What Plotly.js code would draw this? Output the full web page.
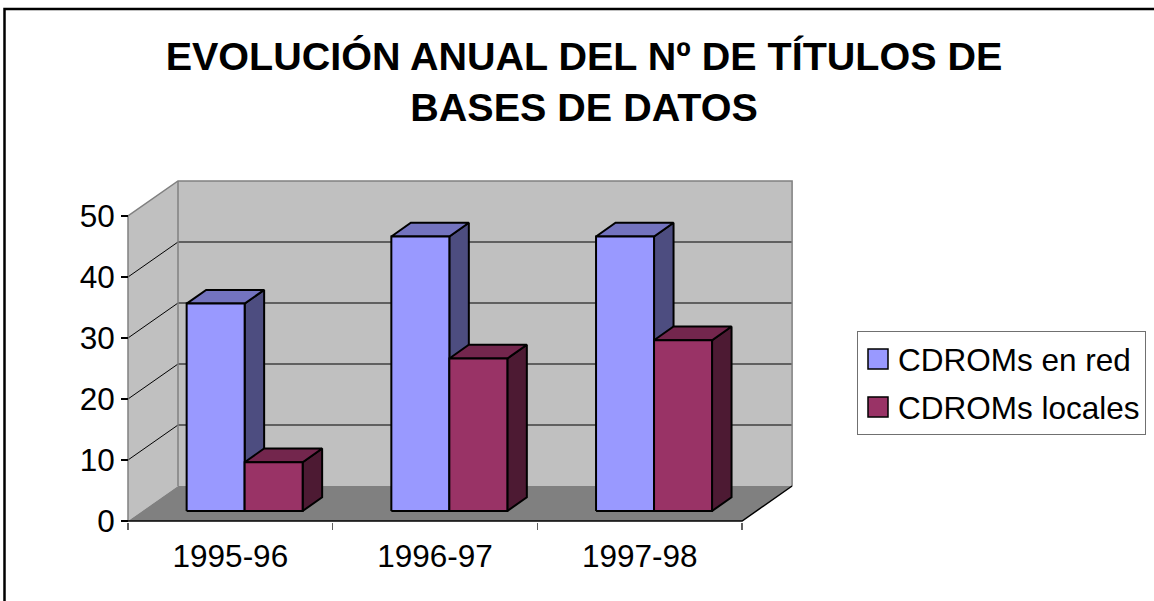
<!DOCTYPE html>
<html><head><meta charset="utf-8">
<script src="https://cdn.plot.ly/plotly-3.0.1.min.js"></script>
<style>html,body{margin:0;padding:0;background:#fff}#chart{width:1154px;height:601px}</style>
</head><body><div id="chart"></div>
<script>
// ---- data ----
const categories = ['1995-96', '1996-97', '1997-98'];
const seriesNames = ['CDROMs en red', 'CDROMs locales'];
const enRed = [34, 45, 45];
const locales = [8, 25, 28];
const yTicks = [0, 10, 20, 30, 40, 50];
const titleText = 'EVOLUCIÓN ANUAL DEL Nº DE TÍTULOS DE<br>BASES DE DATOS';

// ---- geometry (pseudo 3D) ----
const PXX = 204.7, PXY = 6.1;
const L = 122, R = 355, T = 170, B = 79;
const W = 1154 - L - R, H = 601 - T - B;
const x0 = -0.5 - (128 - L) / PXX, x1 = x0 + W / PXX;
const y0 = -1 / PXY, y1 = y0 + H / PXY;
const DX = 50 / PXX, DY = 35 / PXY;          // full depth of the floor
const fdx = DX * 10 / 35, fdy = DY * 10 / 35; // bar front plane
const bdx = 19.5 / PXX, bdy = 13.7 / PXY;     // bar depth
const barW = 58 / PXX;
const xL = -0.5, xR = categories.length - 0.5;
const yMax = yTicks[yTicks.length - 1];

function faces(vals, so) {
  const f = {x: [], y: []}, t = {x: [], y: []}, s = {x: [], y: []};
  vals.forEach((v, i) => {
    const xl = i + so + fdx, xr = xl + barW, yb = fdy, yt = fdy + v;
    f.x.push(xl, xr, xr, xl, xl, null); f.y.push(yb, yb, yt, yt, yb, null);
    t.x.push(xl, xr, xr + bdx, xl + bdx, xl, null); t.y.push(yt, yt, yt + bdy, yt + bdy, yt, null);
    s.x.push(xr, xr + bdx, xr + bdx, xr, xr, null); s.y.push(yb, yb + bdy, yt + bdy, yt, yb, null);
  });
  return {f, t, s};
}
function poly(p, color, name) {
  return {type: 'scatter', mode: 'lines', x: p.x, y: p.y, fill: 'toself', fillcolor: color,
    line: {color: '#000', width: 2}, hoverinfo: 'skip', showlegend: false, name: name};
}
const series = [
  {vals: enRed, so: -barW, c: ['#9999FF', '#7373BF', '#4D4D80']},
  {vals: locales, so: 0, c: ['#993366', '#73264D', '#4D1A33']}
];
const traces = [];
series.forEach((sr, k) => {
  const fc = faces(sr.vals, sr.so);
  traces.push(poly(fc.s, sr.c[2], seriesNames[k]));
  traces.push(poly(fc.t, sr.c[1], seriesNames[k]));
  traces.push(poly(fc.f, sr.c[0], seriesNames[k]));
});
series.forEach((sr, k) => {
  traces.push({type: 'scatter', mode: 'markers', x: [null], y: [null], xaxis: 'x2', name: seriesNames[k],
    legendgroup: 'g' + k, marker: {symbol: 'square', size: 16, color: sr.c[0], line: {color: '#000', width: 1.5}},
    hoverinfo: 'skip'});
});

// ---- walls, floor, grid ----
const P = (pts) => 'M' + pts.map(p => p[0] + ',' + p[1]).join('L');
const shapes = [];
const sh = (path, fill, lc, lw) => shapes.push({type: 'path', xref: 'x', yref: 'y', layer: 'below', path: path,
  fillcolor: fill || 'rgba(0,0,0,0)', line: {color: lc || 'rgba(0,0,0,0)', width: lw || 0}});
sh(P([[xL, 0], [xL, yMax], [xL + DX, yMax + DY], [xL + DX, DY]]) + 'Z', '#C0C0C0');
sh(P([[xL + DX, DY], [xR + DX, DY], [xR + DX, yMax + DY], [xL + DX, yMax + DY]]) + 'Z', '#C0C0C0');
sh(P([[xL, 0], [xR, 0], [xR + DX, DY], [xL + DX, DY]]) + 'Z', '#808080');
yTicks.slice(1, -1).forEach(v => sh(P([[xL, v], [xL + DX, v + DY], [xR + DX, v + DY]]), null, '#000', 1));
sh(P([[xL, 0], [xL, yMax], [xL + DX, yMax + DY], [xR + DX, yMax + DY], [xR + DX, DY]]), null, '#808080', 1.5);
sh(P([[xL + DX, DY], [xL + DX, yMax + DY]]), null, '#808080', 1.5);
sh(P([[xL, 0], [xR, 0], [xR + DX, DY]]), null, '#000', 1.5);
// outer frame
const px2x = px => (px - L) / W, py2y = py => (601 - B - py) / H;
shapes.push({type: 'rect', xref: 'paper', yref: 'paper', x0: px2x(4.5), x1: px2x(1170), y0: py2y(9), y1: py2y(620),
  line: {color: '#000', width: 2.5}, fillcolor: 'rgba(0,0,0,0)', layer: 'above'});

const bounds = categories.map((c, i) => i - 0.5).concat([categories.length - 0.5]);
const FS = 31.5;
const layout = {
  width: 1154, height: 601, margin: {l: L, r: R, t: T, b: B, autoexpand: false},
  paper_bgcolor: '#fff', plot_bgcolor: 'rgba(0,0,0,0)',
  font: {family: '"Liberation Sans", Arial, sans-serif', size: FS, color: '#000'},
  title: {text: titleText, font: {size: 39.5, weight: 700, color: '#000'},
    x: 584 / 1154, xanchor: 'center', xref: 'container', y: 1 - 70 / 601, yanchor: 'top', yref: 'container'},
  xaxis: {range: [x0, x1], tickmode: 'array', tickvals: bounds, showticklabels: false, ticks: 'outside', ticklen: 7,
    tickcolor: '#606060', tickwidth: 1.5, showgrid: false, zeroline: false, showline: false, fixedrange: true},
  xaxis2: {overlaying: 'x', matches: 'x', anchor: 'y', side: 'bottom', range: [x0, x1], tickmode: 'array',
    tickvals: categories.map((c, i) => i), ticktext: categories, ticks: '', showgrid: false, zeroline: false,
    showline: false, tickfont: {size: FS}, ticklabelstandoff: 12},
  yaxis: {range: [y0, y1], anchor: 'free', position: (xL - x0) / (x1 - x0), tickmode: 'array', tickvals: yTicks,
    ticks: 'outside', ticklen: 7, tickcolor: '#000', tickwidth: 1.2, showgrid: false, zeroline: false, showline: false,
    fixedrange: true, tickfont: {size: FS}},
  showlegend: true,
  legend: {xref: 'container', yref: 'container', x: 857 / 1154, y: 1 - 331 / 601, xanchor: 'left', yanchor: 'top',
    bgcolor: '#fff', bordercolor: '#707070', borderwidth: 1, font: {size: FS}, traceorder: 'grouped',
    tracegroupgap: 4},
  shapes: shapes
};
Plotly.newPlot('chart', traces, layout, {staticPlot: true}).then(gd => {
  gd.querySelectorAll('.legend .legendpoints path.scatterpts, .legend .legendpoints path.point').forEach(p => {
    p.setAttribute('d', 'M10,10H-10V-10H10Z');
  });
});
</script>
</body></html>
